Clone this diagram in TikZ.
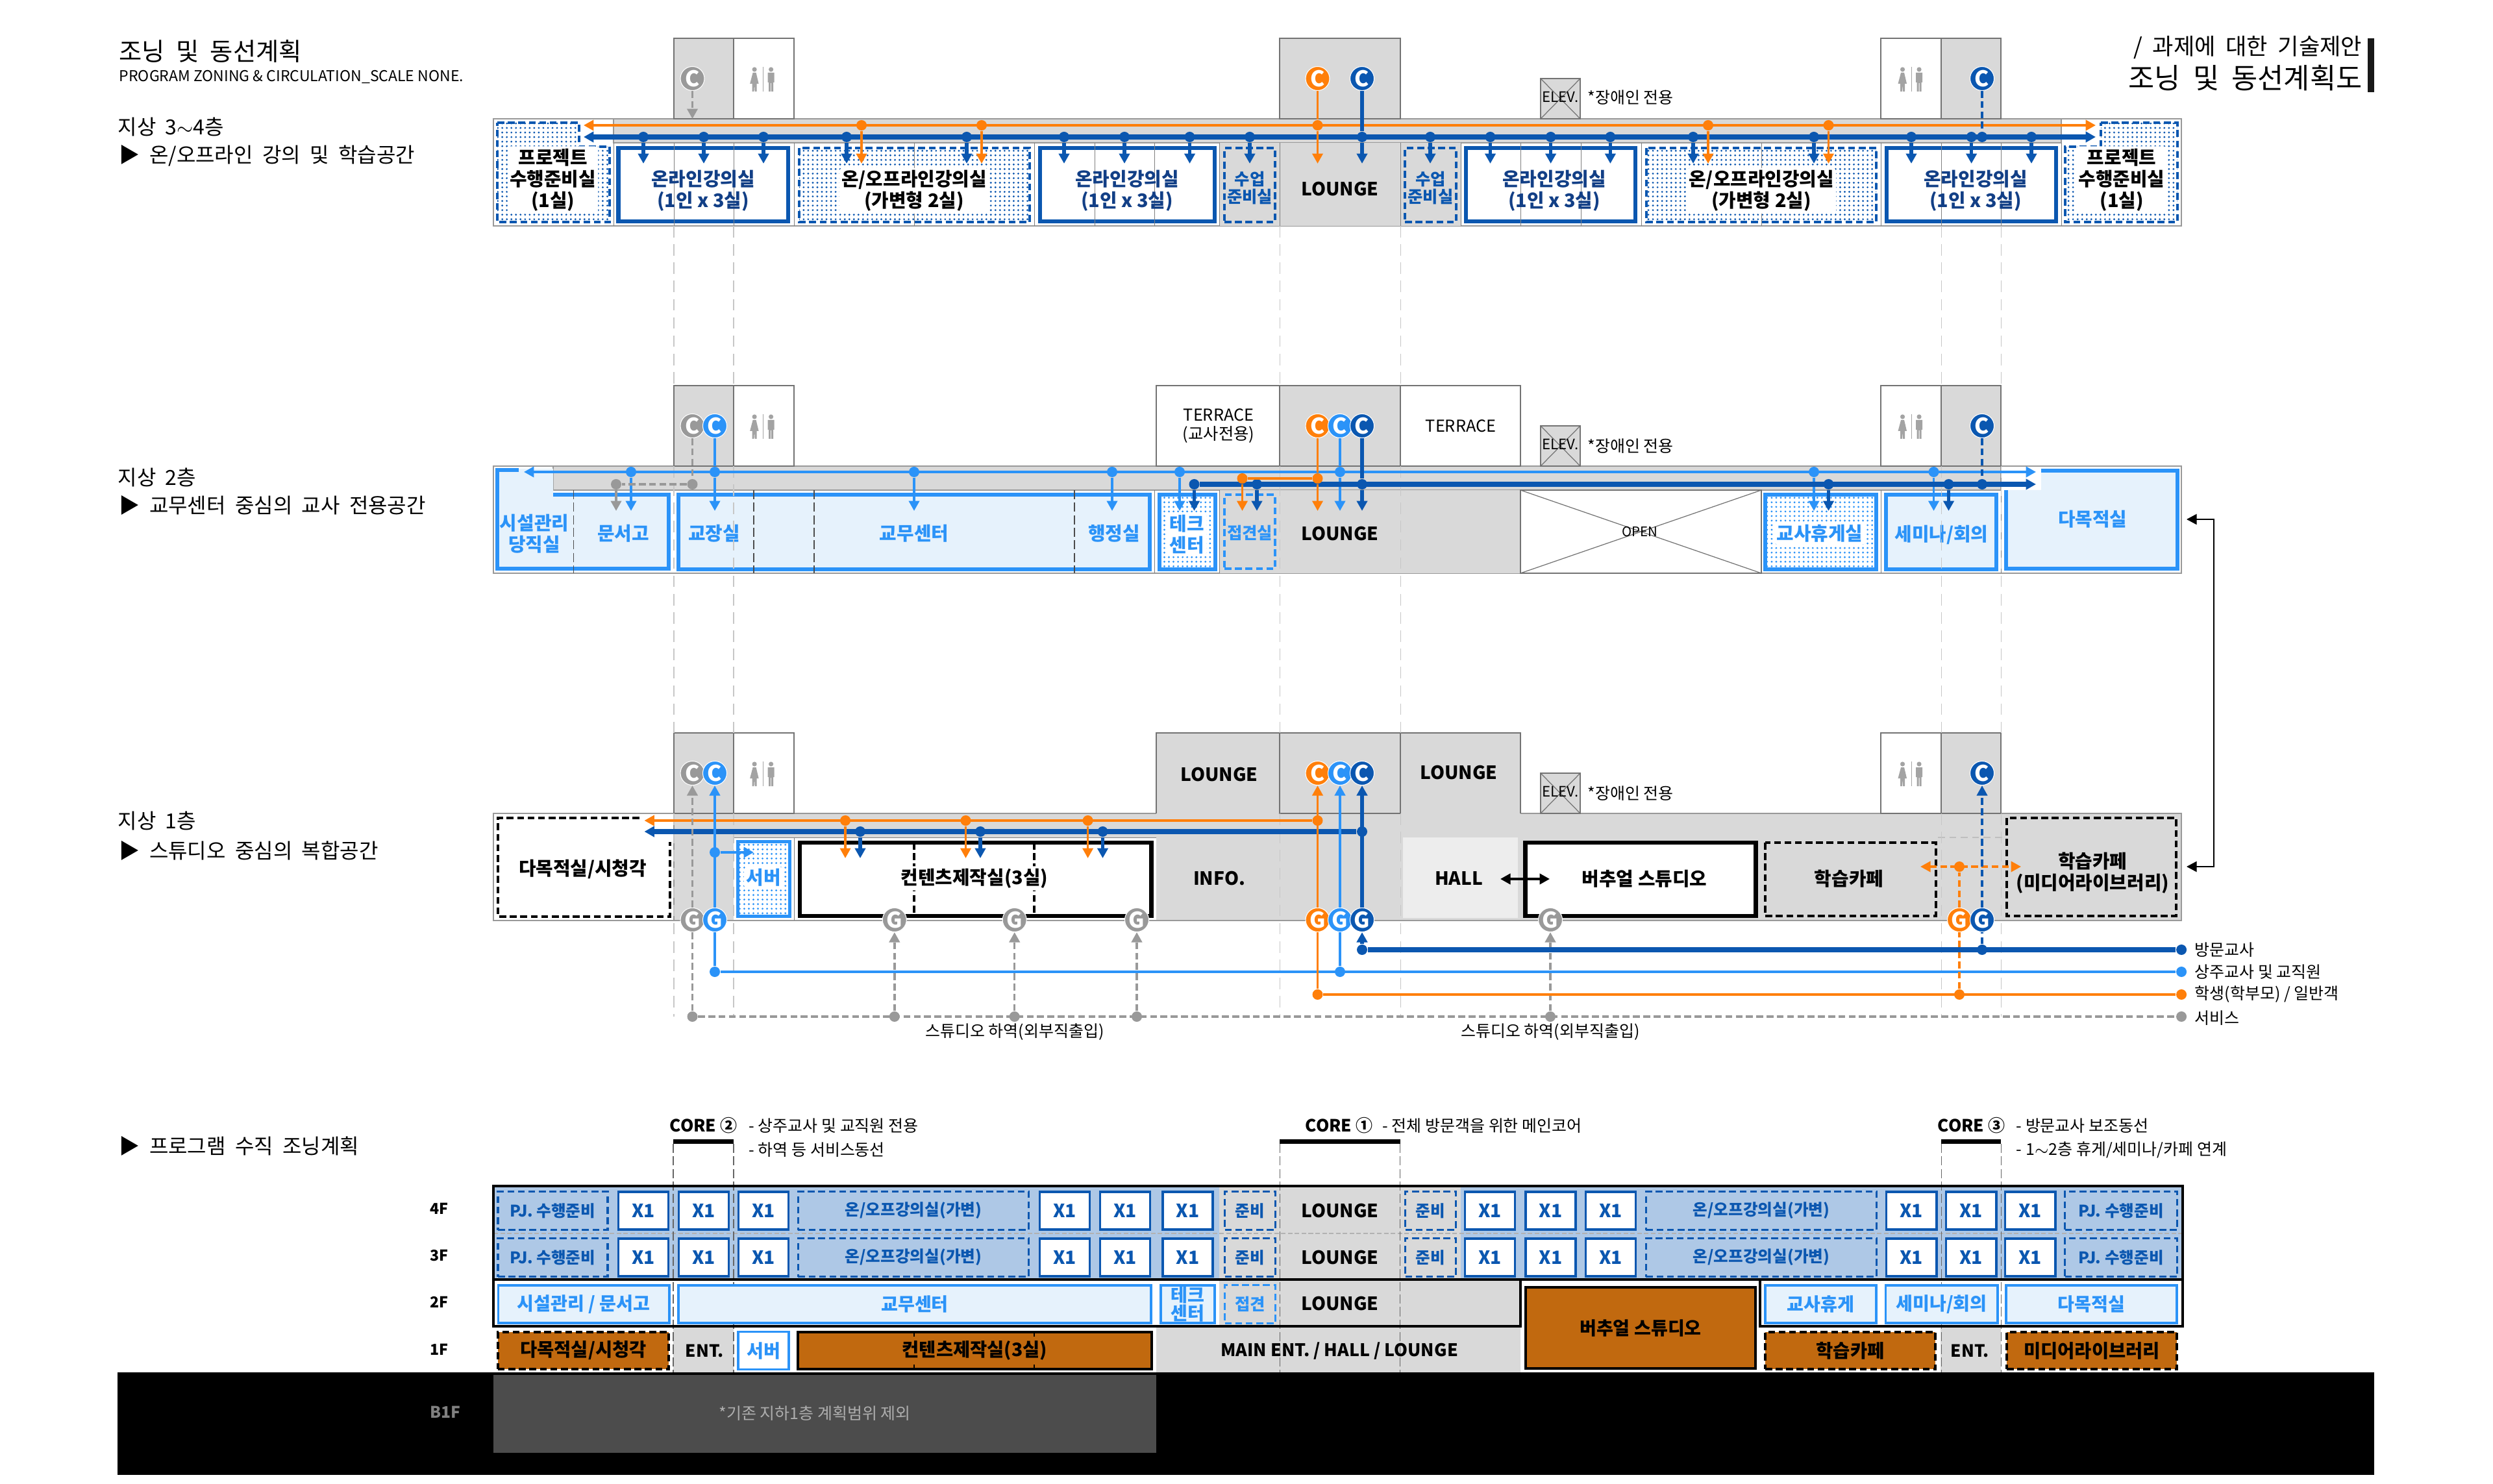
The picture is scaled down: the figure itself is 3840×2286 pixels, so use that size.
\documentclass[tikz,border=0pt]{standalone}
\usepackage{fontspec}
\setmainfont{Noto Sans CJK KR}
\newfontfamily\hdfont[WordSpace=2]{Noto Sans CJK KR}
\usetikzlibrary{arrows.meta,patterns.meta}
\definecolor{dkblue}{HTML}{0B57B0}
\definecolor{ltblue}{HTML}{2B93F8}
\definecolor{navy}{HTML}{123F86}
\definecolor{orng}{HTML}{FF7F0A}
\definecolor{brwn}{HTML}{C1690F}
\definecolor{corr}{HTML}{D9D9D9}
\definecolor{tintb}{HTML}{E6F2FC}
\definecolor{tintr}{HTML}{AEC8E6}
\definecolor{gyl}{HTML}{999999}
\tikzset{
  >={Triangle[length=4.4pt,width=4.6pt]},
  txt/.style={inner sep=0pt,align=center,font=\fontsize{7.1}{8.5}\selectfont},
  head/.style={inner sep=0pt,anchor=west,font=\hdfont\fontsize{9.1}{10}\selectfont},
  room/.style={inner sep=0pt,align=center,font=\fontsize{8.2}{9.4}\selectfont\bfseries},
  roomsm/.style={inner sep=0pt,align=center,font=\fontsize{7.2}{7.7}\selectfont\bfseries},
  big/.style={inner sep=0pt,align=center,font=\fontsize{8}{9.4}\selectfont\bfseries},
  halo/.style={fill=white,inner sep=1pt,rounded corners=1.5pt},
  band/.style={draw=gyl,line width=0.6pt},
  cell/.style={draw=black!55,line width=0.35pt},
  grid/.style={draw=black!50,line width=0.25pt},
  griddash/.style={draw=black!70,line width=0.3pt,dash pattern=on 4pt off 1.5pt},
  guide/.style={draw=black!22,line width=0.3pt,dash pattern=on 5pt off 3pt},
  dots/.style={preaction={fill=white},pattern={Dots[distance=2pt,radius=0.45pt]},pattern color=#1},
  onroom/.style={rectangle,draw=dkblue,line width=1.9pt,fill=white,inner sep=0pt},
  pjroom/.style={draw=dkblue,line width=1pt,dash pattern=on 3pt off 1.6pt,dots=dkblue},
  prep/.style={rectangle,draw=dkblue,line width=1pt,dash pattern=on 3pt off 1.6pt,inner sep=0pt},
  prepl/.style={rectangle,draw=ltblue,line width=1pt,dash pattern=on 3pt off 1.6pt,inner sep=0pt},
  tchr/.style={draw=ltblue,line width=1.6pt,fill=tintb,inner sep=0pt,text=ltblue},
  blk/.style={rectangle,draw=black,line width=1.9pt,fill=white,inner sep=0pt},
  blkd/.style={draw=black,line width=1pt,dash pattern=on 3pt off 1.6pt},
  cnode/.style={circle,fill=#1,draw=white,line width=0.3pt,text=white,inner sep=0pt,minimum size=0.37cm,font=\fontsize{9.5}{9.5}\selectfont\bfseries},
  jn/.style={circle,fill=#1,inner sep=0pt,minimum size=0.16cm},
  dkmain/.style={draw=dkblue,line width=2pt},
  dkdrop/.style={draw=dkblue,line width=1.5pt,->},
  dkrise/.style={draw=dkblue,line width=1.5pt},
  dkdash/.style={draw=dkblue,line width=0.9pt,dash pattern=on 3pt off 1.5pt},
  lbmain/.style={draw=ltblue,line width=1pt},
  ormain/.style={draw=orng,line width=1pt},
  ordash/.style={draw=orng,line width=0.9pt,dash pattern=on 3pt off 1.5pt},
  gymain/.style={draw=gyl,line width=1pt,dash pattern=on 3pt off 1.5pt},
  xbox/.style={rectangle,draw=dkblue,line width=1.1pt,fill=white,text=dkblue,minimum width=0.77cm,minimum height=0.58cm,inner sep=0pt,font=\fontsize{8}{9}\selectfont\bfseries},
  rowd/.style={rectangle,draw=dkblue,line width=1pt,dash pattern=on 3pt off 1.6pt,text=dkblue,inner sep=0pt,minimum height=0.59cm,font=\fontsize{7}{8}\selectfont\bfseries},
  rowl/.style={rectangle,draw=ltblue,line width=1.1pt,fill=tintb,text=ltblue,inner sep=0pt,minimum height=0.58cm,align=center,font=\fontsize{8}{8.2}\selectfont\bfseries},
  rowb/.style={rectangle,fill=brwn,draw=black,line width=1.1pt,inner sep=0pt,minimum height=0.57cm,font=\fontsize{8.1}{9}\selectfont\bfseries},
  frame/.style={draw=black,line width=1.1pt},
  wcicon/.pic={
    \fill[gyl!90] (-13.5,-14) circle[radius=3.6];
    \fill[gyl!90] (-16,-9) -- (-11,-9) -- (-7,8) -- (-10,8) -- (-10,20) -- (-13,20) -- (-13.6,9) -- (-14.2,20) -- (-17,20) -- (-17,8) -- (-20.5,8) -- cycle;
    \fill[gyl!90] (12,-14) circle[radius=3.6];
    \fill[gyl!90] (7,-9) -- (17,-9) -- (17,6) -- (15.5,6) -- (15.5,20) -- (12.5,20) -- (12.5,7) -- (11.5,7) -- (11.5,20) -- (8.5,20) -- (8.5,6) -- (7,6) -- cycle;
    \draw[gyl!90,line width=0.3pt] (0,-18) -- (0,20);
  }
}
\begin{document}
\begin{tikzpicture}[x=0.01cm,y=-0.01cm]
\useasboundingbox (0,0) rectangle (3840,2286);
\node[inner sep=0pt,anchor=west,font=\hdfont\fontsize{10.9}{12}\selectfont] (ttl) at (183,79) {조닝 및 동선계획};
\node[inner sep=0pt,anchor=west,font=\fontsize{6.55}{8}\selectfont] (sub) at (183,119) {PROGRAM ZONING \& CIRCULATION\_SCALE NONE.};
\node[inner sep=0pt,anchor=east,font=\hdfont\fontsize{10}{11}\selectfont] (ttr) at (3639,73) {/ 과제에 대한 기술제안};
\node[inner sep=0pt,anchor=east,font=\hdfont\fontsize{12.4}{14}\selectfont] (ttrb) at (3639,120) {조닝 및 동선계획도};
\fill[black!90] (3647,59) rectangle (3657,142);
\node[head] (f4a) at (181,195) {지상 3$\sim$4층};
\node[head] (f4b) at (183,240) {▶ 온/오프라인 강의 및 학습공간};
\node[head] (f2a) at (181,735) {지상 2층};
\node[head] (f2b) at (183,778) {▶ 교무센터 중심의 교사 전용공간};
\node[head] (f1a) at (181,1264) {지상 1층};
\node[head] (f1b) at (183,1310) {▶ 스튜디오 중심의 복합공간};
\node[head] (f0b) at (183,1765) {▶ 프로그램 수직 조닝계획};

\filldraw[band,fill=white] (760,183) rectangle (3360,348);
\filldraw[band,fill=corr] (945,183) rectangle (3175,220);
\fill[corr] (1878,220) rectangle (2250,348);
\filldraw[cell,fill=corr] (1038,59) rectangle (1130,183);
\draw[cell] (1130,59) rectangle (1223,183);
\filldraw[cell,fill=corr] (1971,59) rectangle (2157,183);
\draw[cell] (2897,59) rectangle (2990,183);
\filldraw[cell,fill=corr] (2990,59) rectangle (3082,183);
\pic at (1175.6,121) {wcicon};
\pic at (2944,121) {wcicon};
\filldraw[cell,fill=corr] (2373,121) rectangle (2434,183);
\draw[cell] (2373,121) -- (2434,183) (2373,183) -- (2434,121);
\node[inner sep=0pt,font=\fontsize{6.3}{8}\selectfont] (ev4) at (2403.5,150) {ELEV.};
\node[txt,anchor=west] (ev4n) at (2445,150) {*장애인 전용};

\draw[pjroom] (766,189) -- (892,189) -- (892,226) -- (939,226) -- (939,342) -- (766,342) -- cycle;
\node[onroom,minimum width=2.615cm,minimum height=1.13cm] (on41) at (1083.25,284.5) {};
\draw[pjroom] (1231,228) rectangle (1586,342);
\node[onroom,minimum width=2.69cm,minimum height=1.13cm] (on42) at (1736.5,284.5) {};
\node[prep,minimum width=0.78cm,minimum height=1.14cm] (pr41) at (1925,285) {};
\node[prep,minimum width=0.79cm,minimum height=1.14cm] (pr42) at (2203.5,285) {};
\node[onroom,minimum width=2.61cm,minimum height=1.13cm] (on43) at (2388.5,284.5) {};
\draw[pjroom] (2536,228) rectangle (2890,342);
\node[onroom,minimum width=2.61cm,minimum height=1.13cm] (on44) at (3036.5,284.5) {};
\draw[pjroom] (3236,189) -- (3354,189) -- (3354,342) -- (3181,342) -- (3181,226) -- (3236,226) -- cycle;
\foreach \xx in {945,1038,1130,1223,1408,1593,1686,1778,1878,1971,2157,2250,2342,2435,2528,2713,2897,2990,3082,3175}{
  \draw[grid] (\xx,220) -- (\xx,348);
}
\node[room,halo] (pj41) at (851.6,277) {프로젝트\\수행준비실\\(1실)};
\node[room,text=navy] (on41t) at (1083,294) {온라인강의실\\(1인 x 3실)};
\node[room,halo] (oo41) at (1408,294) {온/오프라인강의실\\(가변형 2실)};
\node[room,text=navy] (on42t) at (1736,294) {온라인강의실\\(1인 x 3실)};
\node[roomsm,text=dkblue] (pr41t) at (1925,290) {수업\\준비실};
\node[big] (lg4) at (2064,291) {LOUNGE};
\node[roomsm,text=dkblue] (pr42t) at (2203.5,290) {수업\\준비실};
\node[room,text=navy] (on43t) at (2394,294) {온라인강의실\\(1인 x 3실)};
\node[room,halo] (oo42) at (2713,294) {온/오프라인강의실\\(가변형 2실)};
\node[room,text=navy] (on44t) at (3043,294) {온라인강의실\\(1인 x 3실)};
\node[room,halo] (pj42) at (3268,277) {프로젝트\\수행준비실\\(1실)};

\filldraw[band,fill=white] (760,718) rectangle (3360,883);
\filldraw[band,fill=corr] (852,718) rectangle (3082,755);
\fill[corr] (1878,755) rectangle (2342,883);
\filldraw[cell,fill=corr] (1038,594) rectangle (1130,718);
\draw[cell] (1130,594) rectangle (1223,718);
\draw[cell] (1781,594) rectangle (1971,718);
\filldraw[cell,fill=corr] (1971,594) rectangle (2157,718);
\draw[cell] (2157,594) rectangle (2342,718);
\draw[cell] (2897,594) rectangle (2990,718);
\filldraw[cell,fill=corr] (2990,594) rectangle (3082,718);
\pic at (1175.6,656) {wcicon};
\pic at (2944,656) {wcicon};
\filldraw[cell,fill=corr] (2373,656) rectangle (2434,718);
\draw[cell] (2373,656) -- (2434,718) (2373,718) -- (2434,656);
\node[inner sep=0pt,font=\fontsize{6.3}{8}\selectfont] (ev2) at (2403.5,685) {ELEV.};
\node[txt,anchor=west] (ev2n) at (2445,687) {*장애인 전용};
\node[inner sep=0pt,align=center,font=\fontsize{7.2}{8.2}\selectfont] (tr21) at (1877,656) {TERRACE\\(교사전용)};
\node[inner sep=0pt,font=\fontsize{7.2}{8.2}\selectfont] (tr22) at (2250,656) {TERRACE};

\fill[tintb] (764,722) -- (852,722) -- (852,760) -- (1033,760) -- (1033,878) -- (764,878) -- cycle;
\draw[ltblue,line width=1.6pt] (799,724) -- (766,724) -- (766,876) -- (1030,876) -- (1030,762) -- (852,762);
\node[tchr,minimum width=7.26cm,minimum height=1.15cm] (tc2) at (1408,819.5) {};
\node[rectangle,draw=ltblue,line width=1.6pt,dots=ltblue,inner sep=0pt,minimum width=0.86cm,minimum height=1.15cm] (te2) at (1828.8,819.5) {};
\node[prepl,minimum width=0.78cm,minimum height=1.14cm] (cn2) at (1925,819) {};
\node[rectangle,draw=ltblue,line width=1.6pt,dots=ltblue,inner sep=0pt,minimum width=1.71cm,minimum height=1.15cm] (rs2) at (2804.5,819.5) {};
\node[tchr,minimum width=1.70cm,minimum height=1.15cm] (sm2) at (2990,819.5) {};
\fill[tintb] (3090,755) -- (3144,755) -- (3144,724) -- (3354,724) -- (3354,877) -- (3090,877) -- cycle;
\draw[ltblue,line width=1.6pt] (3144,725) -- (3354,725) -- (3354,876) -- (3090,876) -- (3090,755);
\filldraw[cell,fill=white] (2342,755) rectangle (2713,883);
\draw[cell] (2342,755) -- (2713,883) (2342,883) -- (2713,755);
\foreach \xx in {883.5,1161,1254,1655}{
  \draw[griddash] (\xx,755) -- (\xx,883);
}
\foreach \xx in {1778,1878,2897,3082}{
  \draw[grid] (\xx,755) -- (\xx,883);
}
\node[room,text=ltblue] (fa2) at (823,822) {시설관리\\당직실};
\node[room,text=ltblue] (dc2) at (960,822) {문서고};
\node[room,text=ltblue] (pr2) at (1100,822) {교장실};
\node[room,text=ltblue] (ts2) at (1408,822) {교무센터};
\node[room,text=ltblue] (ad2) at (1716,822) {행정실};
\node[room,text=ltblue,halo] (tk2) at (1828,823) {테크\\센터};
\node[roomsm,text=ltblue] (cnt2) at (1925,821) {접견실};
\node[big] (lg2) at (2064,822) {LOUNGE};
\node[inner sep=0pt,font=\fontsize{5.8}{7}\selectfont] (op2) at (2526,819) {OPEN};
\node[room,text=ltblue,halo] (rst2) at (2803,822) {교사휴게실};
\node[room,text=ltblue] (smt2) at (2990.6,824) {세미나/회의};
\node[room,text=ltblue] (mp2t) at (3223.4,800) {다목적실};

\filldraw[band,fill=corr] (760,1253) rectangle (3360,1418);
\filldraw[band,fill=white] (760,1253) rectangle (1038,1418);
\fill[white] (1130,1290) rectangle (1781,1417);
\draw[grid] (1130,1290) -- (1781,1290);
\fill[corr] (1781,1129) rectangle (2342,1290);
\draw[cell] (1781,1253) -- (1781,1129) -- (2342,1129) -- (2342,1253);
\draw[cell] (1971,1129) -- (1971,1253) -- (2157,1253) -- (2157,1129);
\filldraw[cell,fill=corr] (1038,1129) rectangle (1130,1253);
\draw[cell] (1130,1129) rectangle (1223,1253);
\draw[cell] (2897,1129) rectangle (2990,1253);
\filldraw[cell,fill=corr] (2990,1129) rectangle (3082,1253);
\pic at (1175.6,1191) {wcicon};
\pic at (2944,1191) {wcicon};
\filldraw[cell,fill=corr] (2373,1191) rectangle (2434,1253);
\draw[cell] (2373,1191) -- (2434,1253) (2373,1253) -- (2434,1191);
\node[inner sep=0pt,font=\fontsize{6.3}{8}\selectfont] (ev1) at (2403.5,1220) {ELEV.};
\node[txt,anchor=west] (ev1n) at (2445,1222) {*장애인 전용};
\node[big] (lg1a) at (1878,1193) {LOUNGE};
\node[big] (lg1b) at (2247,1190) {LOUNGE};

\draw[blkd] (985,1260) -- (767,1260) -- (767,1412) -- (1032,1412) -- (1032,1297);
\node[rectangle,draw=ltblue,line width=1.5pt,dots=ltblue,inner sep=0pt,minimum width=0.80cm,minimum height=1.15cm] (sv1) at (1176.5,1354) {};
\node[blk,minimum width=5.41cm,minimum height=1.13cm] (ct1) at (1502.5,1354.5) {};
\foreach \xx in {1408,1593}{
  \draw[blkd] (\xx,1298) -- (\xx,1411);
}
\draw[grid] (1223,1290) -- (1223,1418);
\fill[black!7] (2161,1290) rectangle (2338,1414);
\node[blk,minimum width=3.545cm,minimum height=1.13cm] (vs1) at (2526.8,1354.5) {};
\draw[blkd] (2719,1298) rectangle (2982,1411);
\draw[blkd] (3091,1260) rectangle (3352,1411);
\draw[black!25,line width=0.3pt,dash pattern=on 3pt off 2pt] (2985,1290) -- (3089,1290);
\node[room] (mt1) at (897.5,1339) {다목적실/시청각};
\node[room,text=ltblue,halo] (svt1) at (1176,1352) {서버};
\node[room,halo] (ctt1) at (1501,1353) {컨텐츠제작실(3실)};
\node[big] (inf1) at (1878,1353) {INFO.};
\node[big] (hl1) at (2247,1353) {HALL};
\node[room] (vst1) at (2533,1354) {버추얼 스튜디오};
\node[room] (cf1) at (2848,1354) {학습카페};
\node[room] (ml1) at (3223.4,1345) {학습카페\\(미디어라이브러리)};

\foreach \xx in {1038,1130,1971,2157,2990,3082}{
  \draw[guide] (\xx,348) -- (\xx,594);
  \draw[guide] (\xx,718) -- (\xx,1129);
  \draw[guide] (\xx,1253) -- (\xx,1566);
}

\node[cnode=gyl] (c4g) at (1066.5,121) {C};
\node[cnode=orng] (c4o) at (2029.5,121) {C};
\node[cnode=dkblue] (c4d) at (2098,121) {C};
\node[cnode=dkblue] (c4r) at (3053,121) {C};
\coordinate (o4l) at (899,193);
\coordinate (o4r) at (3228,193);
\coordinate (d4l) at (899,211);
\coordinate (d4r) at (3228,211);
\coordinate (g4e) at (1066.5,183);
\draw[ormain,<->] (o4l) -- (o4r);
\draw[dkmain,<->] (d4l) -- (d4r);
\draw[gymain,->] (c4g) -- (g4e);
\foreach \n/\xx in {a/991,b/1084,c/1176,d/1304,e/1489,f/1639,g/1732,h/1832.5,i/1925,j/2098,k/2203,l/2295.5,m/2388.6,n/2480.4,p/2608,q/2794,r/2944,s/3036.6,t/3129}{
  \node[jn=dkblue] (d4\n) at (\xx,211) {};
  \coordinate (d4\n e) at (\xx,252);
  \draw[dkdrop] (d4\n) -- (d4\n e);
}
\foreach \n/\xx in {a/1327,b/1512,c/2029.5,d/2631,e/2816.5}{
  \node[jn=orng] (o4\n) at (\xx,193) {};
  \coordinate (o4\n e) at (\xx,252);
  \draw[ormain,->] (o4\n) -- (o4\n e);
}
\draw[ormain] (c4o) -- (o4c);
\draw[dkrise] (c4d) -- (d4j);
\node[jn=dkblue] (d4u) at (3053,211) {};
\draw[dkdash] (c4r) -- (d4u);

\node[cnode=gyl] (c2g) at (1066.5,656) {C};
\node[cnode=ltblue] (c2l) at (1101,656) {C};
\node[cnode=orng] (c2o) at (2029.5,656) {C};
\node[cnode=ltblue] (c2m) at (2064,656) {C};
\node[cnode=dkblue] (c2d) at (2098,656) {C};
\node[cnode=dkblue] (c2r) at (3053,656) {C};
\coordinate (l2l) at (807,727);
\coordinate (l2r) at (3136,727);
\coordinate (d2r) at (3136,746);
\draw[lbmain,<->] (l2l) -- (l2r);
\foreach \n/\xx in {a/972,b/1101,c/1408,d/1713,e/1817,f/2064,g/2794,h/2978.5}{
  \node[jn=ltblue] (l2\n) at (\xx,727) {};
  \coordinate (l2\n e) at (\xx,787);
  \draw[lbmain,->] (l2\n) -- (l2\n e);
}
\draw[lbmain] (c2l) -- (l2b);
\draw[lbmain] (c2m) -- (l2f);
\foreach \n/\xx in {a/1839.5,b/1936,c/2098,d/2816.5,e/3001.5}{
  \node[jn=dkblue] (d2\n) at (\xx,746) {};
  \coordinate (d2\n e) at (\xx,787);
  \draw[dkdrop] (d2\n) -- (d2\n e);
}
\draw[dkmain,->] (d2a) -- (d2r);
\draw[dkrise] (c2d) -- (d2c);
\node[jn=dkblue] (d2u) at (3053,746) {};
\draw[dkdash] (c2r) -- (d2u);
\node[jn=gyl] (g2a) at (1066.5,746) {};
\node[jn=gyl] (g2b) at (949,746) {};
\coordinate (g2e) at (949,787);
\draw[gymain] (c2g) -- (g2a);
\draw[gymain] (g2a) -- (g2b);
\draw[gyl,line width=1pt,->] (g2b) -- (g2e);
\node[jn=orng] (o2a) at (2029.5,737) {};
\node[jn=orng] (o2b) at (1913.5,737) {};
\coordinate (o2ae) at (2029.5,787);
\coordinate (o2be) at (1913.5,787);
\draw[ormain] (c2o) -- (o2a);
\draw[ormain] (o2a) -- (o2b);
\draw[ormain,->] (o2a) -- (o2ae);
\draw[ormain,->] (o2b) -- (o2be);

\node[cnode=gyl] (c1g) at (1066.5,1191) {C};
\node[cnode=ltblue] (c1l) at (1101,1191) {C};
\node[cnode=orng] (c1o) at (2029.5,1191) {C};
\node[cnode=ltblue] (c1m) at (2064,1191) {C};
\node[cnode=dkblue] (c1d) at (2098,1191) {C};
\node[cnode=dkblue] (c1r) at (3053,1191) {C};
\node[cnode=gyl] (g1g) at (1066.5,1417) {G};
\node[cnode=ltblue] (g1l) at (1101,1417) {G};
\node[cnode=gyl] (g1a) at (1377.8,1417) {G};
\node[cnode=gyl] (g1b) at (1562.7,1417) {G};
\node[cnode=gyl] (g1c) at (1751,1417) {G};
\node[cnode=orng] (g1o) at (2029.5,1417) {G};
\node[cnode=ltblue] (g1m) at (2064,1417) {G};
\node[cnode=dkblue] (g1d) at (2098,1417) {G};
\node[cnode=gyl] (g1e) at (2388,1417) {G};
\node[cnode=orng] (g1p) at (3018,1417) {G};
\node[cnode=dkblue] (g1r) at (3053,1417) {G};

\node[jn=orng] (o1c) at (2029.5,1264) {};
\node[jn=dkblue] (d1c) at (2098,1281) {};
\coordinate (o1l) at (992.5,1264);
\coordinate (d1l) at (992.5,1281);
\draw[ormain,->] (o1c) -- (o1l);
\draw[dkmain,->] (d1c) -- (d1l);
\foreach \n/\xx in {a/1302,b/1487.5,c/1675.6}{
  \node[jn=orng] (o1\n) at (\xx,1264) {};
  \coordinate (o1\n e) at (\xx,1322);
  \draw[ormain,->] (o1\n) -- (o1\n e);
}
\foreach \n/\xx in {a/1325,b/1510,c/1698.5}{
  \node[jn=dkblue] (d1\n) at (\xx,1281) {};
  \coordinate (d1\n e) at (\xx,1322);
  \draw[dkdrop] (d1\n) -- (d1\n e);
}

\node[jn=gyl] (sv0) at (1066.5,1566) {};
\node[jn=gyl] (lgy) at (3360,1566) {};
\node[jn=dkblue] (ldk) at (3360,1463) {};
\node[jn=ltblue] (llb) at (3360,1497) {};
\node[jn=orng] (lor) at (3360,1532) {};
\draw[gymain] (sv0) -- (lgy);
\draw[gymain] (sv0) -- (g1g);
\draw[gymain,->] (g1g) -- (c1g);
\foreach \n/\xx/\gg in {a/1377.8/g1a,b/1562.7/g1b,c/1751/g1c,e/2388/g1e}{
  \node[jn=gyl] (sv\n) at (\xx,1566) {};
  \draw[gymain,->] (sv\n) -- (\gg);
}
\node[jn=ltblue] (lba) at (1101,1497) {};
\node[jn=ltblue] (lbb) at (2064,1497) {};
\node[jn=ltblue] (lbs) at (1101,1313) {};
\coordinate (lbse) at (1161,1313);
\draw[lbmain] (lba) -- (llb);
\draw[lbmain] (g1l) -- (lba);
\draw[lbmain] (g1m) -- (lbb);
\draw[lbmain,->] (g1l) -- (c1l);
\draw[lbmain,->] (g1m) -- (c1m);
\draw[lbmain,->] (lbs) -- (lbse);
\node[jn=orng] (ora) at (2029.5,1532) {};
\node[jn=orng] (orb) at (3018,1532) {};
\node[jn=orng] (orc) at (3018,1335) {};
\coordinate (orl) at (2958,1335);
\coordinate (orr) at (3113,1335);
\draw[ormain] (ora) -- (lor);
\draw[ormain] (g1o) -- (ora);
\draw[ormain,->] (g1o) -- (c1o);
\draw[ordash] (orb) -- (g1p);
\draw[ordash] (g1p) -- (orc);
\draw[ordash,<->] (orl) -- (orr);
\node[jn=dkblue] (dka) at (2098,1463) {};
\node[jn=dkblue] (dkb) at (3053,1463) {};
\draw[dkmain] (dka) -- (ldk);
\draw[dkdrop] (dka) -- (g1d);
\draw[dkdrop] (g1d) -- (c1d);
\draw[dkdash] (dkb) -- (g1r);
\draw[dkdash,->] (g1r) -- (c1r);
\coordinate (hla) at (2311,1354);
\coordinate (hlb) at (2387,1354);
\draw[black,line width=1pt,<->] (hla) -- (hlb);
\coordinate (mpa) at (3368,800);
\coordinate (mpb) at (3368,1335);
\coordinate (mpc) at (3410,1000);
\draw[black,line width=0.4pt,<->] (mpa) -| (mpc) |- (mpb);

\node[txt,anchor=west] (lg1) at (3380,1463) {방문교사};
\node[txt,anchor=west] (lg2n) at (3380,1497) {상주교사 및 교직원};
\node[txt,anchor=west] (lg3) at (3380,1532) {학생(학부모) / 일반객};
\node[txt,anchor=west] (lg4n) at (3380,1568) {서비스};
\node[txt] (ha) at (1563,1590) {스튜디오 하역(외부직출입)};
\node[txt] (hb) at (2388,1590) {스튜디오 하역(외부직출입)};

\fill[tintr] (760,1827) rectangle (3360,1971);
\fill[corr] (1878,1827) rectangle (2250,1971);
\fill[corr] (1878,1971) rectangle (2342,2043);
\fill[corr] (1037,2043) rectangle (1130,2114);
\fill[corr] (1781,2043) rectangle (2342,2114);
\fill[corr] (2989,2043) rectangle (3082,2114);
\draw[black!30,line width=0.5pt,dash pattern=on 2pt off 1pt] (760,1900) -- (3360,1900);
\foreach \xx in {1037,1130,1971,2156.5,2990,3082}{
  \draw[griddash,draw=black!60] (\xx,1762) -- (\xx,2114);
}
\foreach \r/\yy in {4/1865,3/1937}{
  \node[rowd,minimum width=1.69cm] (pj\r a) at (851.5,\yy) {PJ. 수행준비};
  \node[rowd,minimum width=3.55cm] (oo\r a) at (1407,\yy) {온/오프강의실(가변)};
  \node[rowd,minimum width=0.78cm] (pp\r a) at (1925.5,\yy) {준비};
  \node[rowd,minimum width=0.78cm] (pp\r b) at (2203.5,\yy) {준비};
  \node[rowd,minimum width=3.55cm] (oo\r b) at (2713,\yy) {온/오프강의실(가변)};
  \node[rowd,minimum width=1.73cm] (pj\r b) at (3267,\yy) {PJ. 수행준비};
  \node[big] (lr\r) at (2064,\yy) {LOUNGE};
  \foreach \n/\xx in {a/991,b/1084,c/1176,d/1640,e/1733,f/1829.5,g/2295,h/2388.5,i/2481,j/2944,k/3036,l/3127}{
    \node[xbox] (x\r\n) at (\xx,\yy) {X1};
  }
}
\node[rowl,minimum width=2.63cm] (r2a) at (899,2009) {시설관리 / 문서고};
\node[rowl,minimum width=7.28cm] (r2b) at (1409,2009) {교무센터};
\node[rowl,minimum width=0.83cm] (r2c) at (1829.5,2009) {테크\\센터};
\node[rectangle,draw=ltblue,line width=1pt,dash pattern=on 3pt off 1.6pt,text=ltblue,inner sep=0pt,minimum width=0.78cm,minimum height=0.59cm,font=\fontsize{7.2}{8}\selectfont\bfseries] (r2d) at (1925.5,2009) {접견};
\node[big] (r2e) at (2064,2008) {LOUNGE};
\node[rowl,minimum width=1.71cm] (r2f) at (2804.5,2009) {교사휴게};
\node[rowl,minimum width=1.72cm] (r2g) at (2990.5,2009) {세미나/회의};
\node[rowl,minimum width=2.63cm] (r2h) at (3221.5,2009) {다목적실};
\node[rowb,dash pattern=on 3pt off 1.6pt,minimum width=2.63cm] (r1a) at (898.5,2080.5) {다목적실/시청각};
\node[big,font=\fontsize{7.4}{9}\selectfont\bfseries] (r1b) at (1085,2081) {ENT.};
\node[rectangle,draw=ltblue,line width=1.1pt,fill=white,text=ltblue,inner sep=0pt,minimum width=0.78cm,minimum height=0.58cm,font=\fontsize{8}{9}\selectfont\bfseries] (r1c) at (1176,2080.5) {서버};
\node[rowb,minimum width=5.44cm] (r1d) at (1501.5,2080.5) {컨텐츠제작실(3실)};
\foreach \xx in {1408,1593}{
  \draw[black,line width=0.6pt] (\xx,2052) -- (\xx,2059) (\xx,2102) -- (\xx,2109);
}
\node[big,font=\fontsize{7.6}{9}\selectfont\bfseries] (r1e) at (2063,2081) {MAIN ENT. / HALL / LOUNGE};
\node[rectangle,fill=brwn,draw=black,line width=1.2pt,inner sep=0pt,minimum width=3.54cm,minimum height=1.25cm,font=\fontsize{8}{9}\selectfont\bfseries] (r1f) at (2527,2045.5) {버추얼 스튜디오};
\node[rowb,dash pattern=on 3pt off 1.6pt,minimum width=2.62cm] (r1g) at (2850,2080.5) {학습카페};
\node[big,font=\fontsize{7.4}{9}\selectfont\bfseries] (r1h) at (3034,2081) {ENT.};
\node[rowb,dash pattern=on 3pt off 1.6pt,minimum width=2.62cm] (r1i) at (3222,2080.5) {미디어라이브러리};
\draw[frame] (760,1827) rectangle (3362,1971);
\draw[frame] (760,1971) -- (760,2043) -- (2342,2043) -- (2342,1971);
\draw[frame] (2711,1971) -- (2711,2043) -- (3362,2043) -- (3362,1971);

\fill[black] (181,2114) rectangle (3657,2272);
\fill[black!70] (760,2118) rectangle (1781,2238);
\node[txt,text=black!32] (b1n) at (1255,2177) {*기존 지하1층 계획범위 제외};
\foreach \n/\yy/\ll in {a/1862/4F,b/1934/3F,c/2006/2F,d/2079/1F}{
  \node[inner sep=0pt,anchor=west,font=\fontsize{6.6}{8}\selectfont\bfseries] (fl\n) at (662,\yy) {\ll};
}
\node[inner sep=0pt,anchor=west,text=black!50,font=\fontsize{7}{8}\selectfont\bfseries] (fle) at (662,2175) {B1F};

\node[inner sep=0pt,font=\fontsize{7.4}{9}\selectfont\bfseries] (cr2) at (1083.5,1734) {CORE ②};
\node[inner sep=0pt,font=\fontsize{7.4}{9}\selectfont\bfseries] (cr1) at (2062.5,1734) {CORE ①};
\node[inner sep=0pt,font=\fontsize{7.4}{9}\selectfont\bfseries] (cr3) at (3036.5,1734) {CORE ③};
\fill[black] (1037,1755) rectangle (1130,1762);
\fill[black] (1971,1755) rectangle (2156.5,1762);
\fill[black] (2990,1755) rectangle (3082,1762);
\node[txt,anchor=west] (n2a) at (1153,1734) {- 상주교사 및 교직원 전용};
\node[txt,anchor=west] (n2b) at (1153,1771) {- 하역 등 서비스동선};
\node[txt,anchor=west] (n1a) at (2129,1734) {- 전체 방문객을 위한 메인코어};
\node[txt,anchor=west] (n3a) at (3105,1734) {- 방문교사 보조동선};
\node[txt,anchor=west] (n3b) at (3105,1771) {- 1$\sim$2층 휴게/세미나/카페 연계};
\end{tikzpicture}
\end{document}
